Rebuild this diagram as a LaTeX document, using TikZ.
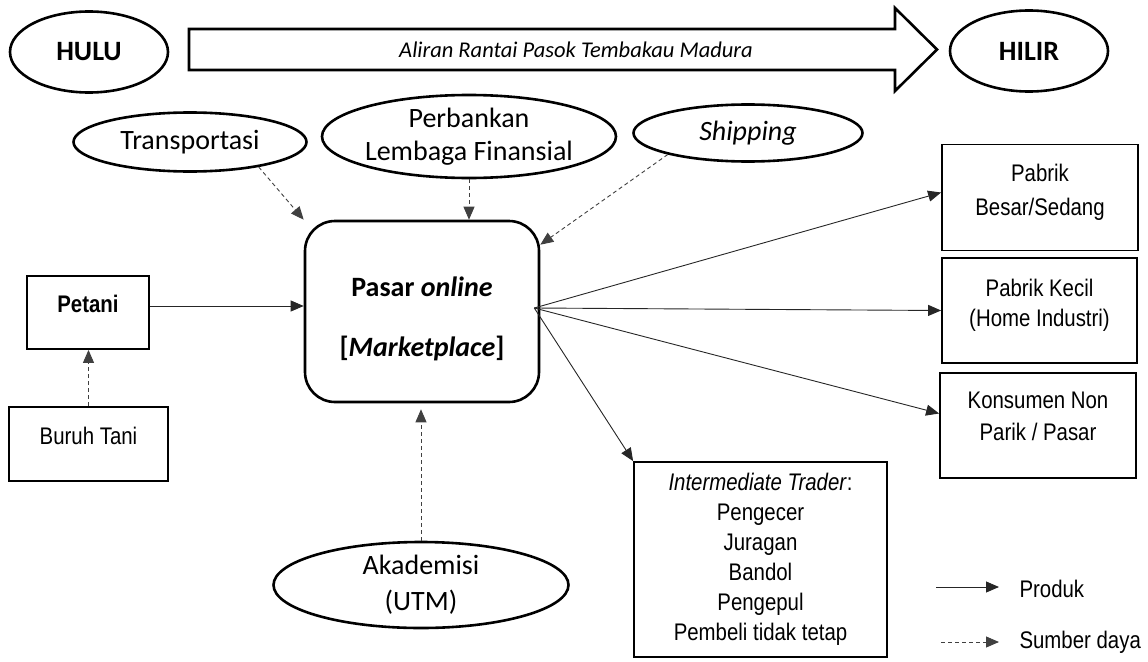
\documentclass[tikz,border=0pt]{standalone}
\usepackage{fontspec}
\setmainfont{Carlito}
\newfontfamily\arialn[FakeStretch=0.85]{Liberation Sans}
\usetikzlibrary{arrows.meta,shapes.geometric}

\begin{document}
\begin{tikzpicture}[x=1pt, y=-1pt,
    oval/.style={draw, ellipse, line width=2.6pt, align=center, inner sep=-8pt, font=\fontsize{28}{36}\selectfont},
    pole/.style={oval, minimum width=158pt, minimum height=81pt, font=\fontsize{28}{34}\selectfont\bfseries},
    market/.style={draw, rounded corners=30pt, line width=2.6pt, minimum width=234pt, minimum height=181pt, align=center, font=\fontsize{28}{34}\selectfont\bfseries},
    panel/.style={draw, line width=1.8pt, inner sep=0pt, align=center, font=\arialn\fontsize{24}{30}\selectfont},
    legend/.style={anchor=west, font=\arialn\fontsize{24}{30}\selectfont},
    prod/.style={-{Triangle[length=13pt,width=11pt]}, line width=0.9pt, color=black!85},
    res/.style={prod, dash pattern=on 4pt off 3pt, color=black!75}
]
\useasboundingbox (0,0) rectangle (1148,661);

% upstream / downstream
\node[pole] (hulu) at (89,52) {HULU};
\node[pole] (hilir) at (1029,51) {HILIR};
\draw[line width=2.6pt] (189,29) -- (895,29) -- (895,8) -- (937,49.5) -- (895,91) -- (895,70) -- (189,70) -- cycle;
\node[font=\fontsize{22.5}{26}\selectfont\itshape] (flow) at (576,50) {Aliran Rantai Pasok Tembakau Madura};

% supporting resources
\node[oval, minimum width=233pt, minimum height=59pt] (transp) at (190,142) {Transportasi};
\node[oval, minimum width=294pt, minimum height=83pt, font=\fontsize{28}{33}\selectfont] (bank) at (469,136.5) {Perbankan\\Lembaga Finansial};
\node[oval, minimum width=229pt, minimum height=57pt] (ship) at (748,133) {\textit{Shipping}};
\node[oval, minimum width=295pt, minimum height=86pt] (akad) at (421,585) {Akademisi\\(UTM)};

% market
\node[market] (pasar) at (422,311.5) {\rule{0pt}{34pt}Pasar \textit{online}\\[26pt]{[}\textit{Marketplace}{]}};
\coordinate (hub) at ([xshift=-6pt,yshift=3.5pt]pasar.east);

% actors
\node[panel, minimum width=122pt, minimum height=73pt, text height=17pt, text depth=17pt, font=\arialn\fontsize{24}{30}\selectfont\bfseries] (petani) at (88,312.5) {Petani};
\node[panel, minimum width=159pt, minimum height=74pt, text height=17pt, text depth=17pt] (buruh) at (88.5,444) {Buruh Tani};
\node[panel, minimum width=196pt, minimum height=106pt] (besar) at (1040,197.5) {Pabrik\\[4pt]Besar/Sedang\\[-15pt]\mbox{}};
\node[panel, minimum width=195pt, minimum height=105pt] (kecil) at (1039.5,310.5) {Pabrik Kecil\\(Home Industri)\\[-14pt]\mbox{}};
\node[panel, minimum width=196pt, minimum height=105pt] (konsumen) at (1038,425.5) {Konsumen Non\\[2pt]Parik / Pasar\\[-11pt]\mbox{}};
\node[panel, minimum width=253pt, minimum height=195pt] (trader) at (760.5,559.5) {\textit{Intermediate Trader}:\\Pengecer\\Juragan\\Bandol\\Pengepul\\Pembeli tidak tetap};

% product flow
\draw[prod] ([yshift=6.5pt]petani.east) -- ([yshift=5.5pt]pasar.west);
\draw[prod] (hub) -- ([yshift=5pt]besar.west);
\draw[prod] (hub) -- (kecil.west);
\draw[prod] (hub) -- ([yshift=12pt]konsumen.west);
\draw[prod] (hub) -- (trader.north west);

% resource flow
\draw[res] (transp.-20) -- (pasar.north west);
\draw[res] (bank.south) -- (bank.south |- pasar.north);
\draw[res] (ship.195) -- ([yshift=-25pt]pasar.north east);
\draw[res, shorten >=6pt] (akad.north) -- (akad.north |- pasar.south);
\draw[res] (buruh.north) -- (buruh.north |- petani.south);

% legend
\node[legend] (lprod) at (1016,589) {Produk};
\node[legend] (lres) at (1016,642) {Sumber daya};
\draw[prod] ([xshift=-80pt,yshift=2pt]lprod.west) -- ([xshift=-17pt,yshift=2pt]lprod.west);
\draw[res] ([xshift=-75pt]lres.west) -- ([xshift=-17pt]lres.west);

\end{tikzpicture}
\end{document}
